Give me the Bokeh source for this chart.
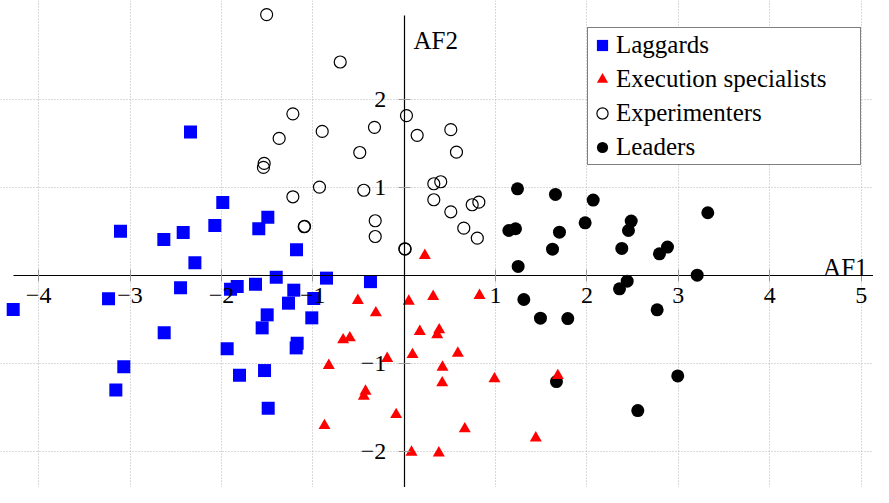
from bokeh.plotting import figure
from bokeh.models import (Range1d, LinearAxis, FixedTicker, Grid, Label, Legend, LegendItem)
from bokeh.embed import file_html
from bokeh.resources import INLINE

# ---- data ----
lag_x = [-2.338, -1.985, -1.492, -1.591, -2.072, -2.418, -2.63, -3.104, -1.178, -2.29,
         -1.40, -0.85, -0.369, -2.447, -1.627, -1.827, -1.90, -1.208, -1.266, -0.989,
         -3.235, -4.278, -1.499, -1.011, -1.554, -2.626, -1.171, -1.182, -1.937, -3.068,
         -1.802, -1.528, -3.155, -1.488]
lag_y = [1.632, 0.831, 0.664, 0.532, 0.569, 0.49, 0.41, 0.505, 0.293, 0.144,
         -0.02, -0.03, -0.07, -0.14, -0.10, -0.125, -0.156, -0.167, -0.315, -0.262,
         -0.266, -0.387, -0.448, -0.482, -0.596, -0.653, -0.771, -0.824, -0.835, -1.04,
         -1.135, -1.082, -1.302, -1.511]

exe_x = [0.226, -0.507, 0.05, 0.317, -0.31, 0.171, 0.383, 0.361, -0.668, -0.595,
         0.091, -0.186, -0.825, 0.419, 0.416, -0.423, -0.442, -0.088, -0.872, 0.08,
         0.379, -0.777, 0.824, 0.587, 0.988, 1.681, 0.663, 1.44]
exe_y = [0.228, -0.285, -0.293, -0.239, -0.425, -0.638, -0.619, -0.676, -0.733, -0.71,
         -0.90, -0.945, -1.025, -1.044, -1.222, -1.318, -1.375, -1.583, -1.708, -2.012,
         -2.02, -2.517, -0.228, -0.885, -1.177, -1.139, -1.746, -1.849]

expm_x = [-1.505, -0.70, -1.218, -0.897, -1.368, -0.325, -0.486, 0.025, 0.142, 0.51,
          0.572, -1.532, -1.54, -0.927, -0.442, -1.218, -1.094, -1.09, -0.317, -0.317,
          0.007, 0.01, 0.324, 0.40, 0.324, 0.51, 0.744, 0.817, 0.652, 0.80]
expm_y = [2.97, 2.43, 1.84, 1.64, 1.56, 1.686, 1.40, 1.82, 1.595, 1.66,
          1.404, 1.276, 1.23, 1.006, 0.97, 0.896, 0.555, 0.56, 0.623, 0.444,
          0.304, 0.30, 1.044, 1.067, 0.862, 0.725, 0.805, 0.835, 0.539, 0.425]

lead_x = [1.24, 1.655, 2.068, 3.322, 5.255, 1.145, 1.218, 1.699, 1.98, 2.484,
          2.454, 1.623, 2.381, 2.881, 2.793, 1.247, 3.206, 2.44, 2.356, 1.309,
          2.768, 1.491, 1.79, 2.993, 1.666, 2.556]
lead_y = [0.987, 0.923, 0.858, 0.714, 0.558, 0.512, 0.532, 0.493, 0.60, 0.619,
          0.512, 0.30, 0.308, 0.323, 0.247, 0.103, 0.004, -0.065, -0.152, -0.273,
          -0.391, -0.486, -0.49, -1.143, -1.207, -1.538]

x_ticks = [-4, -3, -2, -1, 1, 2, 3, 4, 5]
y_ticks = [-2, -1, 1, 2]
series_labels = ["Laggards", "Execution specialists", "Experimenters", "Leaders"]

FONT = "Liberation Serif"

p = figure(width=873, height=487, output_backend="svg", toolbar_location=None,
           x_range=Range1d(-4.417, 5.135), y_range=Range1d(-2.413, 3.130),
           x_axis_type=None, y_axis_type=None, min_border=0)
p.outline_line_color = None
p.background_fill_color = "white"
p.border_fill_color = "white"

# grids
for dim, tk, bnds in ((0, x_ticks, (-2.52, 2.96)), (1, y_ticks, (-4.27, 5.27))):
    g = Grid(dimension=dim, ticker=FixedTicker(ticks=tk), bounds=bnds,
             grid_line_color="#b4b4b4", grid_line_dash="1 2", grid_line_width=1)
    p.add_layout(g)

def mk_label(v):
    return ("\u2212" + str(abs(v))) if v < 0 else str(v)

xaxis = LinearAxis(fixed_location=0, ticker=FixedTicker(ticks=x_ticks), bounds=(-4.27, 5.27),
                   major_label_overrides={v: mk_label(v) for v in x_ticks},
                   axis_line_color="black", axis_line_width=1.2,
                   major_tick_line_color="#999999", major_tick_in=6, major_tick_out=6,
                   minor_tick_line_color=None, major_label_standoff=7,
                   major_label_text_font=FONT, major_label_text_font_size="24px",
                   major_label_text_color="black")
yaxis = LinearAxis(fixed_location=0, ticker=FixedTicker(ticks=y_ticks), bounds=(-2.52, 2.96),
                   major_label_overrides={v: mk_label(v) for v in y_ticks},
                   axis_line_color="black", axis_line_width=1.2,
                   major_tick_line_color="#999999", major_tick_in=6, major_tick_out=6,
                   minor_tick_line_color=None, major_label_standoff=12,
                   major_label_orientation="horizontal",
                   major_label_text_font=FONT, major_label_text_font_size="24px",
                   major_label_text_color="black")
p.add_layout(xaxis, "below")
p.add_layout(yaxis, "left")

r_lag = p.scatter(lag_x, lag_y, marker="square", size=13, fill_color="#0000ff", line_color=None)
r_exm = p.scatter(expm_x, expm_y, marker="circle", size=12, fill_color=None,
                  line_color="black", line_width=1.2)
r_lead = p.scatter(lead_x, lead_y, marker="circle", size=13, fill_color="black", line_color=None)
r_exe = p.scatter(exe_x, exe_y, marker="triangle", size=12, fill_color="#ff0000", line_color=None)

p.add_layout(Label(x=0.102, y=2.675, text="AF2", text_font=FONT, text_font_size="25px",
                   text_align="left", text_baseline="alphabetic", text_color="black"))
p.add_layout(Label(x=5.07, y=0.091, text="AF1", text_font=FONT, text_font_size="25px",
                   text_align="right", text_baseline="alphabetic", text_color="black"))

legend = Legend(items=[LegendItem(label=series_labels[0], renderers=[r_lag]),
                       LegendItem(label=series_labels[1], renderers=[r_exe]),
                       LegendItem(label=series_labels[2], renderers=[r_exm]),
                       LegendItem(label=series_labels[3], renderers=[r_lead])],
                location=(587, 322), orientation="vertical",
                label_text_font=FONT, label_text_font_size="25px", label_text_color="black",
                glyph_width=28, glyph_height=34, label_height=34, spacing=0, padding=0,
                label_standoff=0, label_width=244,
                border_line_color="black", border_line_width=1,
                background_fill_color="white", background_fill_alpha=1.0,
                margin=0)
p.add_layout(legend)

open("out.html", "w").write(file_html(p, INLINE))
